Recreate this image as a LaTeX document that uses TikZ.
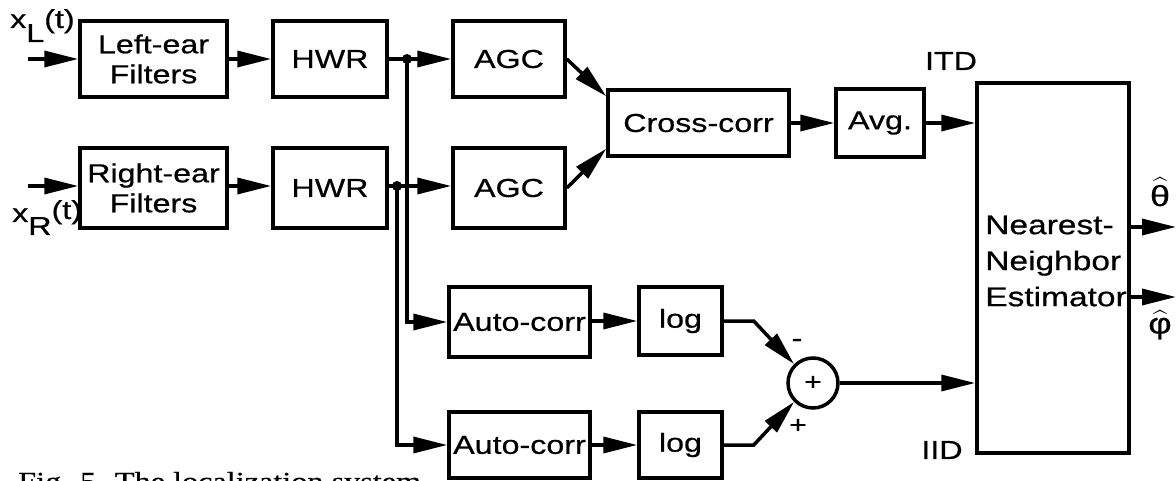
\documentclass[tikz,border=0pt]{standalone}
\usepackage{amsmath}
\usepackage{fontspec}
\setmainfont{Liberation Sans}[FakeStretch=1.24,FakeBold=0.6]
\newfontfamily\capfont{Liberation Serif}[FakeStretch=1.24,FakeBold=0.6]
\usetikzlibrary{arrows.meta,calc}
\begin{document}
\begin{tikzpicture}[x=1pt,y=-1pt,
  every node/.style={font=\fontsize{26}{30}\selectfont},
  blk/.style={draw,line width=3.5pt,inner sep=0pt,align=center},
  arr/.style={line width=3.5pt,-{Triangle[length=34pt,width=16pt]}},
  ln/.style={line width=3.5pt},
  lbl/.style={inner sep=0pt}]
\useasboundingbox (0,0) rectangle (1176,481);
\clip (0,0) rectangle (1176,481);
% boxes
\node[blk,minimum width=147pt,minimum height=76pt] (lef) at (153.5,59) {Left-ear\\Filters};
\node[blk,minimum width=114pt,minimum height=76pt] (hwr1) at (330,59) {HWR};
\node[blk,minimum width=112pt,minimum height=76pt] (agc1) at (509,59) {AGC};
\node[blk,minimum width=147pt,minimum height=80pt] (ref) at (153.5,188) {Right-ear\\Filters};
\node[blk,minimum width=114pt,minimum height=80pt] (hwr2) at (330,188) {HWR};
\node[blk,minimum width=112pt,minimum height=80pt] (agc2) at (509,188) {AGC};
\node[blk,minimum width=181pt,minimum height=66pt] (cc) at (698.5,123) {Cross-corr};
\node[blk,minimum width=88pt,minimum height=68pt] (avg) at (880,123) {Avg.};
\node[blk,minimum width=152pt,minimum height=370pt] (nn) at (1053,268) {};
\node[lbl,align=left,font=\fontsize{27}{36}\selectfont] (nnt) at (1056,261) {Nearest-\\Neighbor\\Estimator};
\node[blk,minimum width=141pt,minimum height=70pt] (ac1) at (519.5,322) {Auto-corr};
\node[blk,minimum width=83pt,minimum height=68pt] (log1) at (680.5,321) {log};
\node[blk,minimum width=141pt,minimum height=66pt] (ac2) at (519.5,445) {Auto-corr};
\node[blk,minimum width=83pt,minimum height=66pt] (log2) at (680.5,445) {log};
\node[draw,circle,line width=3.5pt,minimum size=50pt,inner sep=0pt,font=\fontsize{24}{24}\selectfont] (sum) at (813,383) {+};
% labels
\node[lbl,anchor=base west] (xl) at (10,28) {x\raisebox{-14pt}{L}(t)};
\node[lbl,anchor=base west] (xr) at (12,222) {x\raisebox{-13pt}{R}\raisebox{3pt}{(t)}};
\node[lbl] (itd) at (951,61) {ITD};
\node[lbl] (iid) at (942,450) {IID};
\node[lbl,font=\fontsize{29}{30}\selectfont] (th) at (1160,192) {$\widehat{\text{θ}}$};
\node[lbl,font=\fontsize{29}{30}\selectfont] (ph) at (1160,325) {$\widehat{\text{φ}}$};
\node[lbl] (mi) at (797,343) {-};
\node[lbl,font=\fontsize{24}{24}\selectfont] (pl) at (798,426) {+};
\node[lbl,anchor=base west,font=\capfont\fontsize{26}{30}\selectfont] (cap) at (18,490) {Fig. 5. The localization system.};
% coordinates
\coordinate (inL) at (28,59);
\coordinate (inR) at (28,186);
\coordinate (d1) at (407,59);
\coordinate (d2) at (397,186);
\coordinate (o1) at (1176,227);
\coordinate (o2) at (1176,297);
% connectors
\draw[arr] (inL) -- (lef.west);
\draw[arr] (inR) -- (inR -| ref.west);
\draw[arr] (lef) -- (hwr1);
\draw[arr] (ref.east |- inR) -- (inR -| hwr2.west);
\draw[ln] (hwr1.east) -- (d1);
\draw[arr] (d1) -- (agc1.west);
\draw[ln] (inR -| hwr2.east) -- (d2);
\draw[arr] (d2) -- (d2 -| agc2.west);
\draw[arr] (d1) |- (ac1.west);
\draw[arr] (d2) |- (ac2.west);
\fill (d1) circle (5pt);
\fill (d2) circle (5pt);
\draw[arr] (agc1.east) -- ($(cc.north west)+(0,8)$);
\draw[arr] (agc2.east) -- ($(cc.south west)+(0,-9)$);
\draw[arr] (cc) -- (avg);
\draw[arr] (avg.east) -- (avg.east -| nn.west);
\draw[arr] (ac1.east |- log1.west) -- (log1.west);
\draw[arr] (ac2) -- (log2);
\draw[arr] (log1.east) -- ++(30,0) -- (sum.135);
\draw[arr] (log2.east) -- ++(30,0) -- (sum.225);
\draw[arr] (sum.east) -- (sum.east -| nn.west);
\draw[arr] (o1 -| nn.east) -- (o1);
\draw[arr] (o2 -| nn.east) -- (o2);
\end{tikzpicture}
\end{document}
